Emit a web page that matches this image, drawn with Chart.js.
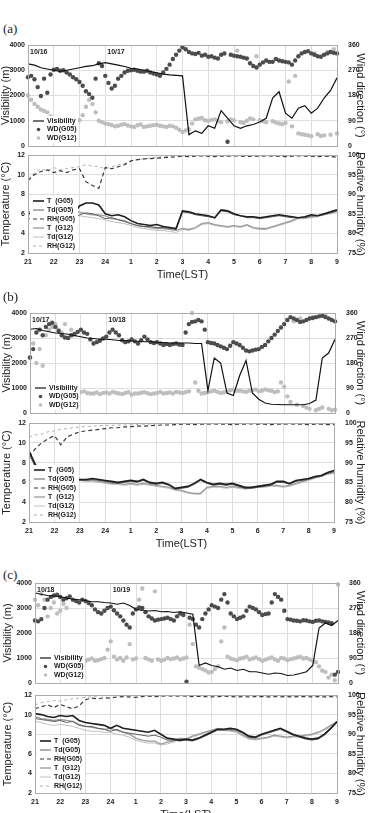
<!DOCTYPE html>
<html>
<head>
<meta charset="utf-8">
<script src="https://cdn.jsdelivr.net/npm/chart.js@4.4.1/dist/chart.umd.min.js"></script>
<style>
  body { margin: 0; background: #fff; width: 374px; height: 813px; overflow: hidden; position: relative; }
  canvas { position: absolute; left: 0; }
  .tag { position: absolute; left: 3px; font-family: "Liberation Serif", "DejaVu Serif", serif; font-size: 13px; color: #222; }
</style>
</head>
<body>
<div class="tag" style="top:21px">(a)</div>
<canvas id="topA" width="374" height="117" style="top:37px"></canvas>
<canvas id="botA" width="374" height="136" style="top:147px"></canvas>
<div class="tag" style="top:289px">(b)</div>
<canvas id="topB" width="374" height="116" style="top:305px"></canvas>
<canvas id="botB" width="374" height="137" style="top:415px"></canvas>
<div class="tag" style="top:567px">(c)</div>
<canvas id="topC" width="374" height="116" style="top:575px"></canvas>
<canvas id="botC" width="374" height="136" style="top:687px"></canvas>
<script>
// time axis: hours after 21 LST, every 15 min (lines) and every 7.5 min (wind direction)
const hours = [0,0.25,0.5,0.75,1,1.25,1.5,1.75,2,2.25,2.5,2.75,3,3.25,3.5,3.75,4,4.25,4.5,4.75,5,5.25,5.5,5.75,6,6.25,6.5,6.75,7,7.25,7.5,7.75,8,8.25,8.5,8.75,9,9.25,9.5,9.75,10,10.25,10.5,10.75,11,11.25,11.5,11.75,12];
const wdHours = [0,0.125,0.25,0.375,0.5,0.625,0.75,0.875,1,1.125,1.25,1.375,1.5,1.625,1.75,1.875,2,2.125,2.25,2.375,2.5,2.625,2.75,2.875,3,3.125,3.25,3.375,3.5,3.625,3.75,3.875,4,4.125,4.25,4.375,4.5,4.625,4.75,4.875,5,5.125,5.25,5.375,5.5,5.625,5.75,5.875,6,6.125,6.25,6.375,6.5,6.625,6.75,6.875,7,7.125,7.25,7.375,7.5,7.625,7.75,7.875,8,8.125,8.25,8.375,8.5,8.625,8.75,8.875,9,9.125,9.25,9.375,9.5,9.625,9.75,9.875,10,10.125,10.25,10.375,10.5,10.625,10.75,10.875,11,11.125,11.25,11.375,11.5,11.625,11.75,11.875,12];
const hourLabels = ['21','22','23','24','1','2','3','4','5','6','7','8','9'];

// (a) 10/16-10/17
const visA = [3250,3200,3100,3050,3000,2950,3000,3050,3100,3150,3180,3250,3300,3250,3200,3150,3080,3050,3000,2950,2900,2850,2820,2800,2780,450,600,500,800,700,1400,1100,800,700,800,850,950,1100,1900,2150,1300,1100,1500,1600,1300,1500,1900,2200,2700];
const wdG05A = [245,250,238,210,178,240,190,255,272,275,268,270,262,255,245,238,228,215,195,185,172,240,295,285,250,225,205,215,240,250,262,268,270,272,268,265,265,268,262,258,255,250,262,275,290,310,325,340,352,345,335,330,328,332,322,325,318,320,315,312,325,330,15,325,322,320,318,315,312,295,285,280,290,298,305,300,300,310,305,302,300,298,290,305,320,330,335,338,330,325,320,318,325,330,335,332,330];
const wdG12A = [180,165,150,140,130,125,120,105,100,98,95,97,100,92,95,98,92,110,140,165,150,120,90,85,80,78,75,70,72,76,78,73,70,68,74,77,68,70,72,74,76,72,70,68,72,70,65,58,50,55,60,80,95,98,100,92,90,93,95,88,85,330,88,95,92,340,85,82,90,98,95,320,92,88,85,300,88,84,80,78,82,230,70,250,45,42,40,38,35,330,42,36,38,335,40,345,45];
const tG05A = [6.0,6.1,6.0,6.2,6.1,6.0,6.0,5.9,6.8,7.1,7.1,6.9,6.0,5.8,5.9,5.7,5.3,5.0,4.9,4.8,4.9,4.7,4.6,4.5,6.3,6.2,6.0,5.9,5.8,5.6,6.4,6.3,6.0,5.8,5.7,5.7,5.6,5.7,5.8,5.9,5.8,5.7,5.6,5.7,5.9,5.8,6.0,6.2,6.4];
const tdG05A = [5.5,5.5,5.6,5.5,5.6,5.5,5.5,5.4,5.9,6.1,6.0,5.8,5.5,5.6,5.4,5.2,5.0,4.8,4.7,4.7,4.6,4.6,4.5,4.4,6.2,6.1,5.9,5.8,5.7,5.6,6.3,6.2,5.9,5.8,5.6,5.6,5.5,5.6,5.7,5.8,5.7,5.6,5.6,5.6,5.8,5.8,5.9,6.1,6.3];
const rhG05A = [93.5,95,95.8,96.2,95.5,96,95.5,96.2,96.5,93.2,92.2,91.5,96.8,96.5,97,97.5,98.5,98.8,99,99.1,99.2,99.3,99.4,99.5,99.7,99.6,99.7,99.8,99.7,99.6,99.7,99.7,99.8,99.7,99.6,99.7,99.7,99.8,99.7,99.7,99.6,99.7,99.8,99.7,99.7,99.6,99.7,99.6,99.4];
const tG12A = [6.2,6.2,6.3,6.2,6.2,6.1,6.2,6.2,6.2,6.0,5.9,5.9,5.8,5.5,5.4,5.3,5.0,4.8,4.7,4.6,4.5,4.5,4.4,4.3,4.5,4.4,4.6,5.0,5.1,4.9,4.8,4.7,4.8,4.7,4.9,4.6,4.5,4.5,4.7,4.9,5.1,5.3,5.6,5.6,5.7,5.8,6.0,6.1,6.3];
const tdG12A = [5.8,5.8,5.9,5.8,5.8,5.7,5.8,5.8,5.8,5.7,5.6,5.5,5.4,5.2,5.1,5.0,4.8,4.6,4.5,4.4,4.3,4.3,4.2,4.1,4.4,4.3,4.5,4.9,5.0,4.8,4.7,4.6,4.7,4.6,4.8,4.5,4.4,4.4,4.6,4.8,5.0,5.2,5.5,5.5,5.6,5.7,5.9,6.0,6.2];
const rhG12A = [94,95.5,96.5,96,96.8,96.2,96.5,96.8,97,97.5,97.2,97,96.5,97,97.5,97.8,98.5,98.8,99,99.2,99.4,99.5,99.6,99.7,99.8,99.8,99.9,99.8,99.9,99.8,99.9,99.9,99.8,99.9,99.9,99.8,99.9,99.9,99.8,99.9,99.9,99.8,99.9,99.9,99.8,99.9,99.9,99.8,99.8];

// (b) 10/17-10/18
const visB = [3350,3380,3300,3250,3200,3180,3150,3100,3050,3000,2980,2950,2950,2930,2900,2900,2880,2870,2850,2850,2830,2820,2800,2800,2800,2800,2780,2780,900,2200,2000,800,700,1500,2100,800,550,400,350,340,330,330,330,330,380,520,2200,2400,2950];
const wdG05B = [200,230,290,300,280,310,320,325,310,295,280,272,270,280,285,292,300,290,285,265,250,255,260,268,275,290,300,290,280,262,255,258,265,258,250,262,275,265,255,252,255,250,245,248,245,248,250,246,245,290,320,328,330,335,330,300,255,252,250,245,240,235,230,242,255,250,245,235,225,222,225,228,230,238,245,258,270,282,295,308,320,335,345,340,335,328,330,335,340,342,345,348,350,345,340,335,330];
const wdG12B = [200,250,180,230,170,280,300,310,320,300,290,320,270,300,280,90,75,78,72,70,70,74,68,72,74,70,76,73,70,68,72,75,66,70,70,73,75,71,68,70,72,76,70,72,74,70,76,74,72,75,78,360,110,80,70,72,75,78,80,76,72,74,78,82,84,80,80,78,76,80,82,85,78,80,85,82,80,75,78,110,95,60,40,330,30,340,25,20,15,345,10,15,20,350,15,10,12];
const tG05B = [9.2,7.8,7.0,6.6,6.5,6.4,6.4,6.3,6.3,6.3,6.4,6.3,6.2,6.1,6.0,6.1,6.2,6.1,6.3,6.0,5.9,6.0,5.8,5.4,5.5,5.6,5.9,6.3,6.0,5.8,5.9,5.8,5.9,5.7,5.5,5.5,5.6,5.7,5.8,6.1,6.1,5.9,6.2,6.3,6.4,6.6,6.7,7.0,7.2];
const tdG05B = [9.0,7.6,6.8,6.4,6.3,6.3,6.2,6.2,6.2,6.2,6.3,6.2,6.1,6.0,5.9,6.0,6.1,6.0,6.2,5.9,5.8,5.9,5.7,5.3,5.4,5.5,5.8,6.2,5.9,5.7,5.8,5.7,5.8,5.6,5.4,5.4,5.5,5.6,5.7,6.0,6.0,5.8,6.1,6.2,6.3,6.5,6.6,6.9,7.1];
const rhG05B = [91.5,93.5,95,96,96.8,94.5,96.5,97.2,97.8,98,98.2,98.4,98.6,98.8,98.8,99,99.1,99.2,99.2,99.3,99.4,99.5,99.5,99.6,99.7,99.7,99.6,99.7,99.7,99.8,99.7,99.7,99.6,99.7,99.7,99.8,99.7,99.7,99.6,99.7,99.7,99.8,99.7,99.7,99.6,99.7,99.7,99.6,99.6];
const tG12B = [9.0,7.6,6.9,6.5,6.4,6.4,6.3,6.3,6.3,6.2,6.2,6.1,6.0,5.9,5.9,5.8,5.9,5.8,5.9,5.8,5.7,5.6,5.5,5.3,5.2,5.0,4.9,4.9,5.5,5.6,5.6,5.5,5.6,5.5,5.4,5.5,5.6,5.6,5.7,5.7,5.6,5.7,5.9,6.1,6.3,6.5,6.7,6.9,7.0];
const tdG12B = [8.8,7.5,6.8,6.4,6.3,6.3,6.2,6.2,6.2,6.1,6.1,6.0,5.9,5.8,5.8,5.7,5.8,5.7,5.8,5.7,5.6,5.5,5.4,5.2,5.1,4.9,4.8,4.8,5.4,5.5,5.5,5.4,5.5,5.4,5.3,5.4,5.5,5.5,5.6,5.6,5.5,5.6,5.8,6.0,6.2,6.4,6.6,6.8,6.9];
const rhG12B = [96.5,97,97.2,97.8,98,98.4,98.6,98.8,99,99.1,99.2,99.3,99.4,99.4,99.5,99.5,99.6,99.6,99.7,99.7,99.8,99.8,99.8,99.9,99.9,99.8,99.9,99.9,99.9,99.8,99.9,99.9,99.9,99.8,99.9,99.9,99.8,99.9,99.9,99.9,99.8,99.9,99.9,99.8,99.9,99.9,99.9,99.8,99.8];

// (c) 10/18-10/19
const visC = [3600,3550,3500,3480,3450,3400,3350,3330,3300,3250,3250,3220,3200,3150,3200,3100,2950,2900,2880,2900,2850,2860,2820,2850,2800,2750,700,800,700,650,550,600,500,550,450,450,400,350,400,380,300,320,380,450,700,2200,2400,2300,2500];
const wdG05C = [225,222,230,270,300,310,315,318,310,300,305,312,300,295,290,300,295,288,280,265,255,250,260,270,275,262,250,240,225,210,200,250,265,272,270,255,240,232,225,228,230,232,235,230,225,240,250,245,5,235,230,210,200,230,250,265,280,275,270,300,320,290,250,240,230,235,240,260,275,270,265,255,245,248,250,290,320,310,300,260,230,228,225,224,222,226,225,222,220,224,225,222,220,218,215,30,40];
const wdG12C = [300,280,320,300,240,270,290,250,260,285,270,100,90,95,85,88,80,84,88,80,82,86,90,120,150,95,85,90,80,92,140,85,88,300,340,90,85,80,330,85,80,84,90,86,88,92,85,88,92,210,140,60,55,50,45,38,40,50,60,150,200,95,88,85,82,88,90,95,85,88,92,86,80,84,88,92,85,80,90,88,82,86,88,92,95,88,90,85,80,75,60,45,40,20,30,10,355];
const tG05C = [10.1,10.0,9.8,9.7,9.9,9.8,9.9,9.4,9.2,9.1,9.0,8.9,8.6,8.9,8.6,8.5,8.4,8.3,8.2,8.4,8.0,7.6,7.5,7.4,7.5,7.4,7.6,7.9,8.2,8.5,8.5,8.6,8.5,8.2,7.8,7.7,8.0,8.2,8.4,8.6,8.3,8.0,7.8,7.6,7.5,7.6,8.0,8.6,9.3];
const tdG05C = [9.6,9.5,9.4,9.3,9.4,9.2,9.3,8.9,8.8,8.8,8.6,8.5,8.3,8.5,8.2,8.1,8.0,7.9,7.8,7.9,7.7,7.4,7.4,7.3,7.4,7.3,7.5,7.8,8.1,8.4,8.4,8.5,8.4,8.1,7.7,7.6,7.9,8.1,8.3,8.5,8.2,7.9,7.7,7.5,7.4,7.5,7.9,8.5,9.2];
const rhG05C = [96.5,97,97.5,96.8,97.6,97,96.5,97.2,98.8,99.2,99,99.3,99.2,99.5,99.6,99.5,99.4,99.6,99.7,99.6,99.7,99.8,99.7,99.8,99.7,99.6,99.7,99.6,99.5,99.6,99.7,99.6,99.5,99.6,99.5,99.6,99.6,99.5,99.6,99.5,99.6,99.5,99.6,99.6,99.5,99.6,99.5,99.6,99.5];
const tG12C = [9.8,9.6,9.5,9.4,9.5,9.4,9.3,9.0,8.8,8.7,8.6,8.5,8.6,8.4,8.2,8.0,7.6,7.4,7.3,7.3,7.0,7.2,7.3,7.6,7.5,7.8,8.0,8.2,8.4,8.6,8.5,8.4,8.3,7.9,7.6,7.5,7.6,7.7,7.9,7.8,7.7,7.8,7.8,7.9,8.0,8.2,8.5,8.9,9.3];
const tdG12C = [9.3,9.2,9.0,8.9,9.0,8.9,8.8,8.6,8.4,8.3,8.3,8.2,8.2,8.0,7.9,7.7,7.4,7.2,7.1,7.1,6.9,7.0,7.2,7.5,7.4,7.7,7.9,8.1,8.3,8.5,8.4,8.3,8.2,7.8,7.5,7.4,7.5,7.6,7.8,7.7,7.6,7.7,7.7,7.8,7.9,8.1,8.4,8.8,9.2];
const rhG12C = [97.5,98,98.3,98.6,98.4,98.8,99,99.2,99.4,99.5,99.8,99.8,99.9,99.8,99.9,99.9,99.8,99.9,99.9,99.9,99.8,99.9,99.9,99.8,99.9,99.9,99.9,99.8,99.9,99.9,99.8,99.9,99.9,99.9,99.8,99.9,99.9,99.8,99.9,99.9,99.9,99.8,99.9,99.9,99.8,99.9,99.9,99.8,99.8];

Chart.defaults.font.family = '"Liberation Sans", Arial, sans-serif';
Chart.defaults.color = '#333';

const gridColor = '#dedede';
const tickFont = { size: 7, weight: 'bold' };
const titleFont = { size: 11, lineHeight: 1 };

const pts = (xs, ys) => xs.map((h, i) => ({ x: h, y: ys[i] }));

// frame, white-backed legend inside the plot, date marks
const panelPlugin = {
    id: 'panel',
    afterDatasetsDraw(chart, args, opts) {
        const { ctx, chartArea: a, scales } = chart;
        ctx.save();
        ctx.font = 'bold 7px "Liberation Sans", Arial, sans-serif';
        ctx.textBaseline = 'middle';
        ctx.textAlign = 'left';
        ctx.fillStyle = '#222';
        (opts.dates || []).forEach(d => {
            ctx.fillText(d.text, scales.x.getPixelForValue(d.at) + 2, a.top + 7);
        });

        const sets = chart.data.datasets;
        const y0 = a.bottom - opts.rowStart;
        const yEnd = y0 + opts.rowGap * (sets.length - 1);
        ctx.fillStyle = '#fff';
        ctx.fillRect(a.left + 2, y0 - 5, 48, Math.min(yEnd + 5, a.bottom - 1) - (y0 - 5));

        sets.forEach((ds, i) => {
            const y = y0 + i * opts.rowGap;
            const x0 = a.left + 5, x1 = a.left + 16;
            if (ds.showLine === false) {
                ctx.fillStyle = ds.pointBackgroundColor;
                ctx.beginPath();
                ctx.arc((x0 + x1) / 2, y, 1.8, 0, Math.PI * 2);
                ctx.fill();
            } else {
                ctx.strokeStyle = ds.borderColor;
                ctx.lineWidth = ds.borderWidth;
                ctx.setLineDash(ds.borderDash || []);
                ctx.beginPath();
                ctx.moveTo(x0, y);
                ctx.lineTo(x1, y);
                ctx.stroke();
                ctx.setLineDash([]);
            }
            ctx.fillStyle = '#222';
            ctx.fillText(ds.label, a.left + 19, y);
        });
        ctx.restore();
    },
    afterDraw(chart) {
        const { ctx, chartArea: a } = chart;
        ctx.save();
        ctx.strokeStyle = '#ababab';
        ctx.lineWidth = 1;
        ctx.strokeRect(Math.round(a.left) + 0.5, Math.round(a.top) + 0.5, Math.round(a.width), Math.round(a.height));
        ctx.restore();
    }
};

function xScale(showLabels) {
    return {
        type: 'linear', min: 0, max: 12,
        ticks: {
            display: showLabels, stepSize: 1, autoSkip: false, maxRotation: 0,
            padding: 5, font: tickFont, color: '#222',
            callback: v => hourLabels[v]
        },
        grid: { color: gridColor, drawTicks: false },
        border: { display: false },
        title: { display: showLabels, text: 'Time(LST)', font: { size: 11 }, color: '#222', padding: { top: 0, bottom: 1 } },
        afterFit(s) { s.height = showLabels ? 30 : 0; }
    };
}

function sideScale(pos, min, max, step, title, width, pad, grid) {
    return {
        position: pos, min, max,
        ticks: { stepSize: step, padding: 3, font: tickFont, color: '#222', callback: v => String(v) },
        grid: grid ? { color: gridColor, drawTicks: false } : { display: false },
        border: { display: false },
        title: { display: true, text: title, font: titleFont, color: '#222', padding: { top: pad, bottom: 0 } },
        afterFit(s) { s.width = width; }
    };
}

function topChart(id, L, R, padL, vis, wd05, wd12, dates) {
    new Chart(document.getElementById(id), {
        type: 'line',
        data: {
            datasets: [
                { label: 'Visibility', data: pts(hours, vis), yAxisID: 'y', borderColor: '#111', borderWidth: 1.2, pointRadius: 0, tension: 0 },
                { label: 'WD(G05)', data: pts(wdHours, wd05), yAxisID: 'yr', showLine: false, pointRadius: 2.2, pointBorderWidth: 0,
                  pointBackgroundColor: '#4c4c4c', borderColor: '#4c4c4c', clip: 3 },
                { label: 'WD(G12)', data: pts(wdHours, wd12), yAxisID: 'yr', showLine: false, pointRadius: 2.2, pointBorderWidth: 0,
                  pointBackgroundColor: '#bebebe', borderColor: '#bebebe', clip: 3 }
            ]
        },
        options: {
            responsive: false,
            animation: false,
            layout: { padding: { top: 8, bottom: 8, left: 0, right: 0 } },
            plugins: {
                legend: { display: false },
                tooltip: { enabled: false },
                panel: { dates, rowStart: 25, rowGap: 8.5 }
            },
            scales: {
                x: xScale(false),
                y: sideScale('left', 0, 4000, 1000, 'Visibility (m)', L, padL, true),
                yr: sideScale('right', 0, 360, 90, 'Wind direction (°)', R, 8, false)
            }
        },
        plugins: [panelPlugin]
    });
}

function bottomChart(id, L, R, padL, t05, td05, rh05, t12, td12, rh12) {
    const line = (label, data, axis, color, width, dash) => ({
        label, data: pts(hours, data), yAxisID: axis, borderColor: color, borderWidth: width,
        borderDash: dash, pointRadius: 0, tension: 0
    });
    new Chart(document.getElementById(id), {
        type: 'line',
        data: {
            datasets: [
                line('T  (G05)', t05, 'y', '#1e1e1e', 1.6, []),
                line('Td(G05)', td05, 'y', '#5e5e5e', 1, []),
                line('RH(G05)', rh05, 'yr', '#3a3a3a', 1.2, [4, 3]),
                line('T  (G12)', t12, 'y', '#9a9a9a', 1.3, []),
                line('Td(G12)', td12, 'y', '#c0c0c0', 1, []),
                line('RH(G12)', rh12, 'yr', '#b0b0b0', 1, [3, 3])
            ]
        },
        options: {
            responsive: false,
            animation: false,
            layout: { padding: { top: 8, bottom: 0, left: 0, right: 0 } },
            plugins: {
                legend: { display: false },
                tooltip: { enabled: false },
                panel: { rowStart: 52, rowGap: 9 }
            },
            scales: {
                x: xScale(true),
                y: sideScale('left', 2, 12, 2, 'Temperature (°C)', L, padL, true),
                yr: sideScale('right', 75, 100, 5, 'Relative humidity (%)', R, 8, false)
            }
        },
        plugins: [panelPlugin]
    });
}

topChart('topA', 28, 37, 0, visA, wdG05A, wdG12A, [{ text: '10/16', at: 0 }, { text: '10/17', at: 3 }]);
bottomChart('botA', 28, 37, 0, tG05A, tdG05A, rhG05A, tG12A, tdG12A, rhG12A);
topChart('topB', 30, 39, 1, visB, wdG05B, wdG12B, [{ text: '10/17', at: 0 }, { text: '10/18', at: 3 }]);
bottomChart('botB', 29, 40, 1, tG05B, tdG05B, rhG05B, tG12B, tdG12B, rhG12B);
topChart('topC', 35, 36, 2, visC, wdG05C, wdG12C, [{ text: '10/18', at: 0 }, { text: '10/19', at: 3 }]);
bottomChart('botC', 35, 37, 2, tG05C, tdG05C, rhG05C, tG12C, tdG12C, rhG12C);
</script>
</body>
</html>
